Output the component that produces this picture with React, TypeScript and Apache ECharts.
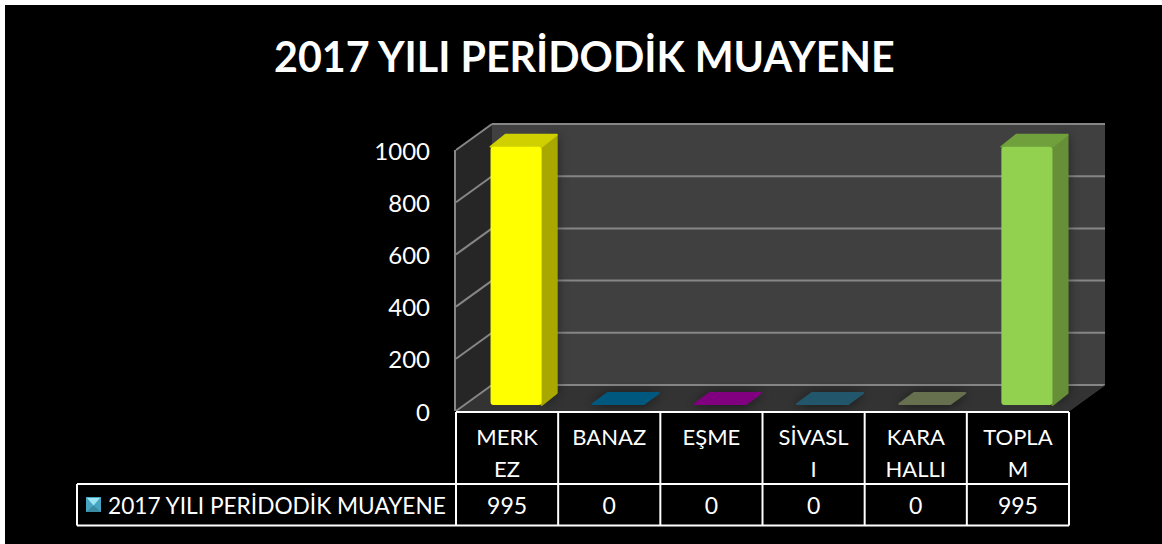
import React, { useEffect, useRef } from "react";
import * as echarts from "echarts";

const titleText = "2017 YILI PERİDODİK MUAYENE";
const seriesName = "2017 YILI PERİDODİK MUAYENE";
const categories = ["MERK\nEZ", "BANAZ", "EŞME", "SİVASL\nI", "KARA\nHALLI", "TOPLA\nM"];
const values = [995, 0, 0, 0, 0, 995];
const yTicks = [0, 200, 400, 600, 800, 1000];
const frontColors = ["#ffff00", "#00597f", "#800080", "#24566b", "#666f4f", "#92d050"];
const sideColors = ["#a8a800", "#00597f", "#800080", "#24566b", "#666f4f", "#668f38"];
const topColors = ["#d0d000", "#00597f", "#800080", "#24566b", "#666f4f", "#6fa03c"];

const FONT = "Lato, Carlito, 'Open Sans', sans-serif";
const GRID = { left: 456, top: 150, width: 613, height: 261 };
const DEPTH = { x: 36, y: -26 };
const BAR_OFF = { x: 9, y: -6 };
const BAR_DEPTH = { x: 15, y: -12 };
const ROW1 = 412;
const ROW2 = 484;
const ROW3 = 525.5;
const LEGEND_LEFT = 77;

const poly = (points: number[][], fill: string, extra: any = {}) => ({
  type: "polygon",
  shape: { points },
  style: { fill, ...extra },
});
const rounded = (fill: string) => ({ stroke: fill, lineWidth: 2, lineJoin: "round" });
const seg = (x1: number, y1: number, x2: number, y2: number, stroke: string, lineWidth = 2) => ({
  type: "line",
  shape: { x1, y1, x2, y2 },
  style: { stroke, lineWidth },
});

const renderWalls = (params: any, api: any) => {
  const cs = params.coordSys;
  const l = cs.x;
  const r = cs.x + cs.width;
  const t = cs.y;
  const b = cs.y + cs.height;
  const dx = DEPTH.x;
  const dy = DEPTH.y;
  const children: any[] = [
    poly([[l + dx, t + dy], [r + dx, t + dy], [r + dx, b + dy], [l + dx, b + dy]], "#404040"),
    poly([[l, t], [l + dx, t + dy], [l + dx, b + dy], [l, b]], "#262626"),
    poly([[l, b], [l + dx, b + dy], [r + dx, b + dy], [r, b]], "#333333"),
    seg(l - 1, t, l - 1, b, "#868686"),
  ];
  yTicks.forEach((tick) => {
    const y = api.coord([0, tick])[1];
    children.push(seg(l, y, l + dx, y + dy, "#868686"));
    children.push(seg(l + dx, y + dy, r + dx, y + dy, "#868686"));
  });
  children.push(seg(r, b, r + dx, b + dy, "#3a3a3a", 1));
  return { type: "group", children };
};

const renderBar = (params: any, api: any) => {
  const i = api.value(0);
  const v = api.value(1);
  const band = api.size([1, 0])[0];
  const w = band * 0.5;
  const c = api.coord([i, v]);
  const c0 = api.coord([i, 0]);
  const x0 = c[0] - w / 2 + BAR_OFF.x;
  const yt = c[1] + BAR_OFF.y + 1.5;
  const yb = c0[1] + BAR_OFF.y;
  const dx = BAR_DEPTH.x;
  const dy = BAR_DEPTH.y;
  const idx = params.dataIndex;
  if (v === 0) {
    return poly(
      [[x0, yb - 1], [x0 + w, yb - 1], [x0 + w + dx, yb + dy], [x0 + dx, yb + dy]],
      frontColors[idx],
      { ...rounded(frontColors[idx]), shadowBlur: 12, shadowColor: "rgba(0,0,0,0.55)", shadowOffsetY: 1 },
    );
  }
  return {
    type: "group",
    children: [
      poly([[x0 + w, yt], [x0 + w + dx, yt + dy], [x0 + w + dx, yb + dy], [x0 + w, yb]], sideColors[idx], {
        ...rounded(sideColors[idx]),
        shadowBlur: 12,
        shadowColor: "rgba(0,0,0,0.45)",
      }),
      poly([[x0, yt], [x0 + dx, yt + dy], [x0 + w + dx, yt + dy], [x0 + w, yt]], topColors[idx], rounded(topColors[idx])),
      {
        type: "rect",
        shape: { x: x0, y: yt, width: w, height: yb - yt, r: 3 },
        style: { fill: frontColors[idx] },
      },
    ],
  };
};

const renderTableText = (_params: any, api: any) => {
  const i = api.value(0);
  const v = api.value(1);
  return {
    type: "text",
    x: api.coord([i, 0])[0],
    y: (ROW2 + ROW3) / 2,
    style: {
      text: String(v),
      fill: "#ffffff",
      font: `23px ${FONT}`,
      align: "center",
      verticalAlign: "middle",
    },
  };
};

const tableLines = () => {
  const l = GRID.left;
  const r = GRID.left + GRID.width;
  const colW = GRID.width / categories.length;
  const items: any[] = [
    seg(l, ROW1, r, ROW1, "#ffffff"),
    seg(LEGEND_LEFT, ROW2, r, ROW2, "#ffffff"),
    seg(LEGEND_LEFT, ROW3, r, ROW3, "#ffffff"),
    seg(LEGEND_LEFT, ROW2, LEGEND_LEFT, ROW3, "#ffffff"),
  ];
  for (let i = 0; i <= categories.length; i++) {
    const x = l + i * colW;
    items.push(seg(x, ROW1, x, ROW3, "#ffffff"));
  }
  return items;
};

const swatch = (x: number, y: number, s: number) => {
  const m = s / 2;
  return [
    poly([[x, y], [x + s, y], [x + s, y + s], [x, y + s]], "#46a4c0"),
    poly([[x + 1, y + 1], [x + s - 1, y + 1], [x + m, y + m + 1]], "#9be4f4"),
    poly([[x, y + s], [x + s, y + s], [x + m, y + m + 1]], "#3a8aa4"),
  ];
};

export default function App() {
  const ref = useRef<HTMLDivElement>(null);
  useEffect(() => {
    const chart = echarts.init(ref.current!, undefined, { renderer: "svg" });
    chart.setOption({
      animation: false,
      title: {
        text: titleText,
        left: 269,
        top: 30,
        textStyle: { color: "#ffffff", fontFamily: FONT, fontWeight: "bold", fontSize: 41.2 },
      },
      grid: GRID,
      xAxis: {
        type: "category",
        data: categories,
        axisLine: { show: false },
        axisTick: { show: false },
        splitLine: { show: false },
        axisLabel: {
          color: "#ffffff",
          fontFamily: FONT,
          fontSize: 22,
          lineHeight: 32,
          margin: 9,
          interval: 0,
          verticalAlign: "top",
        },
      },
      yAxis: {
        type: "value",
        min: 0,
        max: 1000,
        interval: 200,
        axisLine: { show: false },
        axisTick: { show: false },
        splitLine: { show: false },
        axisLabel: {
          color: "#ffffff",
          fontFamily: FONT,
          fontSize: 24,
          margin: 26,
          formatter: (v: number) => String(v),
        },
      },
      graphic: {
        elements: [
          {
            type: "rect",
            z: -10,
            silent: true,
            shape: { x: 5, y: 5, width: 1157, height: 539 },
            style: { fill: "#000000" },
          },
          ...tableLines().map((o) => ({ ...o, z: 20 })),
          ...swatch(86, 497, 15).map((o) => ({ ...o, z: 20 })),
          {
            type: "text",
            z: 20,
            x: 108,
            y: 505,
            style: {
              text: seriesName,
              fill: "#ffffff",
              font: `22.7px ${FONT}`,
              verticalAlign: "middle",
            },
          },
        ],
      },
      series: [
        { type: "custom", data: [[0, 0]], renderItem: renderWalls, silent: true, z: 1 },
        { type: "custom", data: values.map((v, i) => [i, v]), renderItem: renderBar, silent: true, z: 2 },
        { type: "custom", data: values.map((v, i) => [i, v]), renderItem: renderTableText, silent: true, z: 3 },
      ],
    });
    return () => chart.dispose();
  }, []);
  return (
    <div
      ref={ref}
      style={{ position: "fixed", left: 0, top: 0, width: 1162, height: 544, background: "#ffffff" }}
    />
  );
}
